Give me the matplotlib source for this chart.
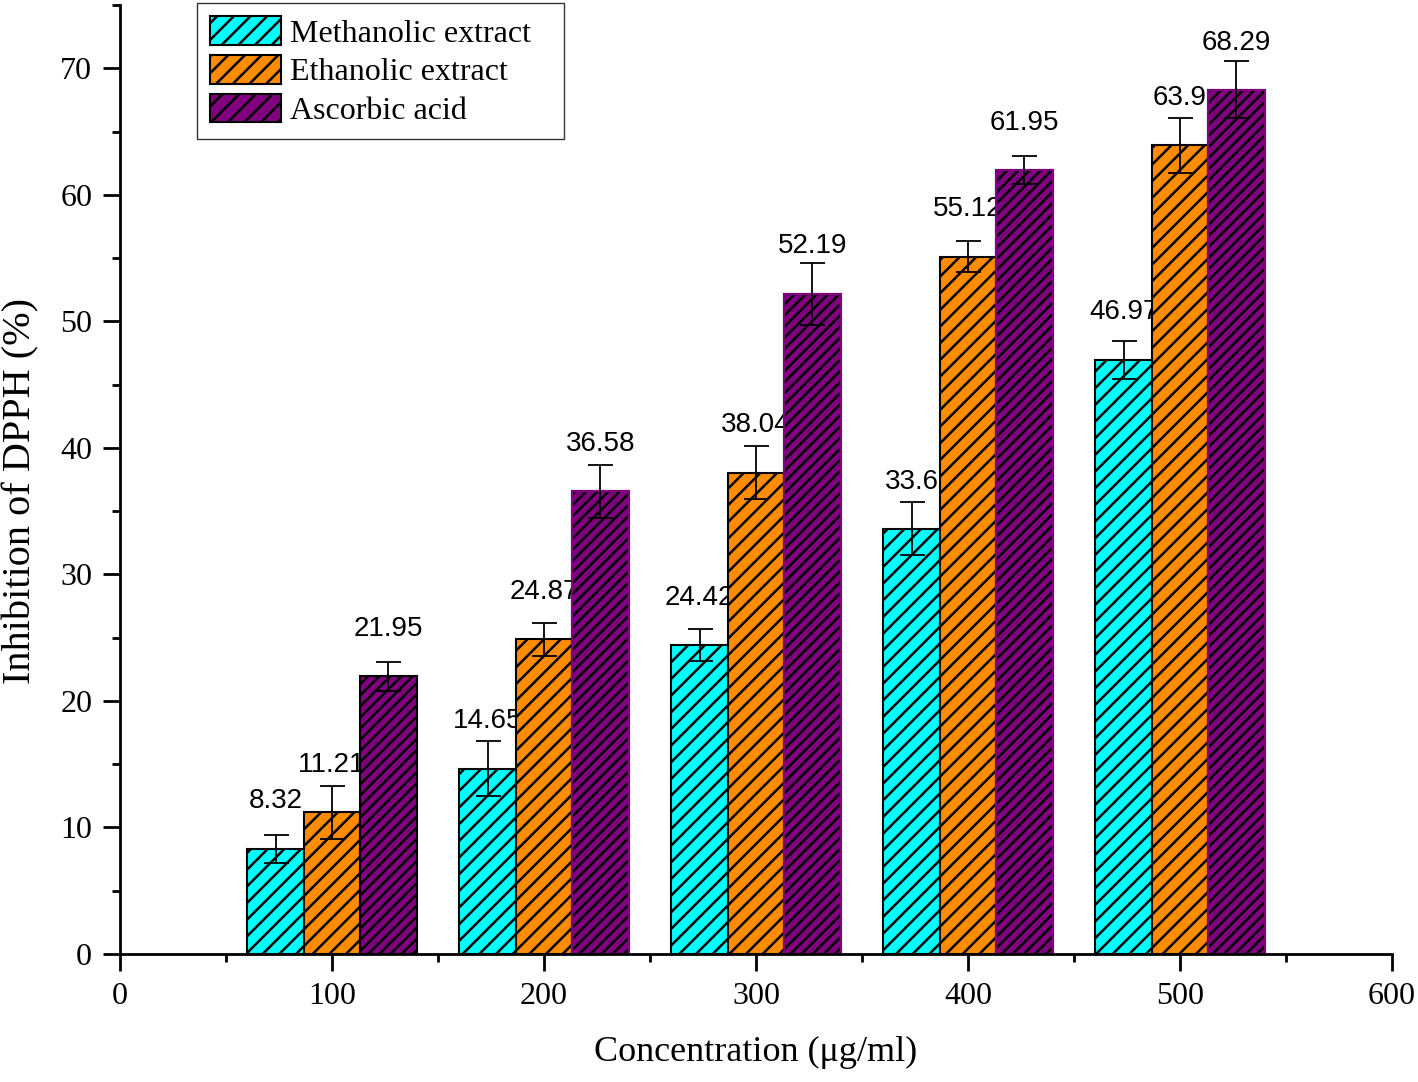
"""
Inhibición de DPPH por extractos y ácido ascórbico (barras agrupadas con error).
"""

import matplotlib
matplotlib.use("Agg")
import matplotlib.pyplot as plt
from matplotlib.patches import Patch
from matplotlib.ticker import MultipleLocator

# -----------------------------
# Datos
# -----------------------------
concentrations = [100, 200, 300, 400, 500]
methanolic = [8.32, 14.65, 24.42, 33.6, 46.97]
ethanolic = [11.21, 24.87, 38.04, 55.12, 63.9]
ascorbic = [21.95, 36.58, 52.19, 61.95, 68.29]
methanolic_err = [1.1, 2.2, 1.3, 2.1, 1.5]
ethanolic_err = [2.1, 1.3, 2.1, 1.2, 2.15]
ascorbic_err = [1.15, 2.1, 2.45, 1.1, 2.25]
series_names = ["Methanolic extract", "Ethanolic extract", "Ascorbic acid"]

plt.rcParams["hatch.linewidth"] = 1.8

fig = plt.figure(figsize=(14.18, 10.82), dpi=100)
ax = fig.add_axes([0.0846, 0.1183, 0.8971, 0.8771])

width = 26.6
offsets = [-width, 0, width]
colors = ["#00FFFF", "#FF8C00", "#800080"]
hatches = ["//", "//", "///"]
values = [methanolic, ethanolic, ascorbic]
errors = [methanolic_err, ethanolic_err, ascorbic_err]

for vals, errs, off, col, hat in zip(values, errors, offsets, colors, hatches):
    xs = [c + off for c in concentrations]
    ax.bar(xs, vals, width=width, color=col, edgecolor="black", hatch=hat,
           linewidth=1.5, zorder=2)
    ax.errorbar(xs, vals, yerr=errs, fmt="none", ecolor="black", elinewidth=1.3,
                capsize=9, capthick=1.3, zorder=3)
    # etiquetas a altura fija sobre la barra, detras de las barras vecinas
    for x, v in zip(xs, vals):
        ax.annotate(f"{v:g}", (x, v), xytext=(0, 29), textcoords="offset points",
                    ha="center", va="baseline", fontsize=20,
                    family="Liberation Sans", zorder=1)

# contorno morado en las barras de ácido ascórbico (excepto la primera)
asc_x = [c + width for c in concentrations]
ax.bar(asc_x[1:], ascorbic[1:], width=width, fill=False, edgecolor="#800080",
       linewidth=1.5, zorder=2.5)

# -----------------------------
# Ejes
# -----------------------------
ax.set_xlim(0, 600)
ax.set_ylim(0, 75)
ax.xaxis.set_major_locator(MultipleLocator(100))
ax.xaxis.set_minor_locator(MultipleLocator(50))
ax.yaxis.set_major_locator(MultipleLocator(10))
ax.yaxis.set_minor_locator(MultipleLocator(5))
ax.spines["top"].set_visible(False)
ax.spines["right"].set_visible(False)
for s in ["left", "bottom"]:
    ax.spines[s].set_linewidth(2)
ax.tick_params(which="major", direction="out", length=12, width=2,
               labelsize=23, pad=8)
ax.tick_params(which="minor", direction="out", length=6, width=2)
for lab in ax.get_xticklabels() + ax.get_yticklabels():
    lab.set_family("Liberation Serif")

ax.set_xlabel("Concentration (μg/ml)", fontsize=26, family="Liberation Serif",
              labelpad=18)
ax.set_ylabel("Inhibition of DPPH (%)", fontsize=29, family="Liberation Serif")
ax.yaxis.set_label_coords(-0.063, 0.488)

handles = [Patch(facecolor=c, edgecolor="black", hatch="//", linewidth=1.5)
           for c in colors]
leg = ax.legend(handles, series_names, loc="upper left",
                bbox_to_anchor=(0.0605, 0, 0.2885, 1.002), mode="expand",
                prop={"family": "Liberation Serif", "size": 23}, frameon=True,
                fancybox=False, edgecolor="black", handlelength=2.2, handleheight=1.0,
                borderaxespad=0, labelspacing=0.2, handletextpad=0.3,
                borderpad=0.42)
leg.get_frame().set_linewidth(1.0)

fig.savefig("out.png", dpi=100)
